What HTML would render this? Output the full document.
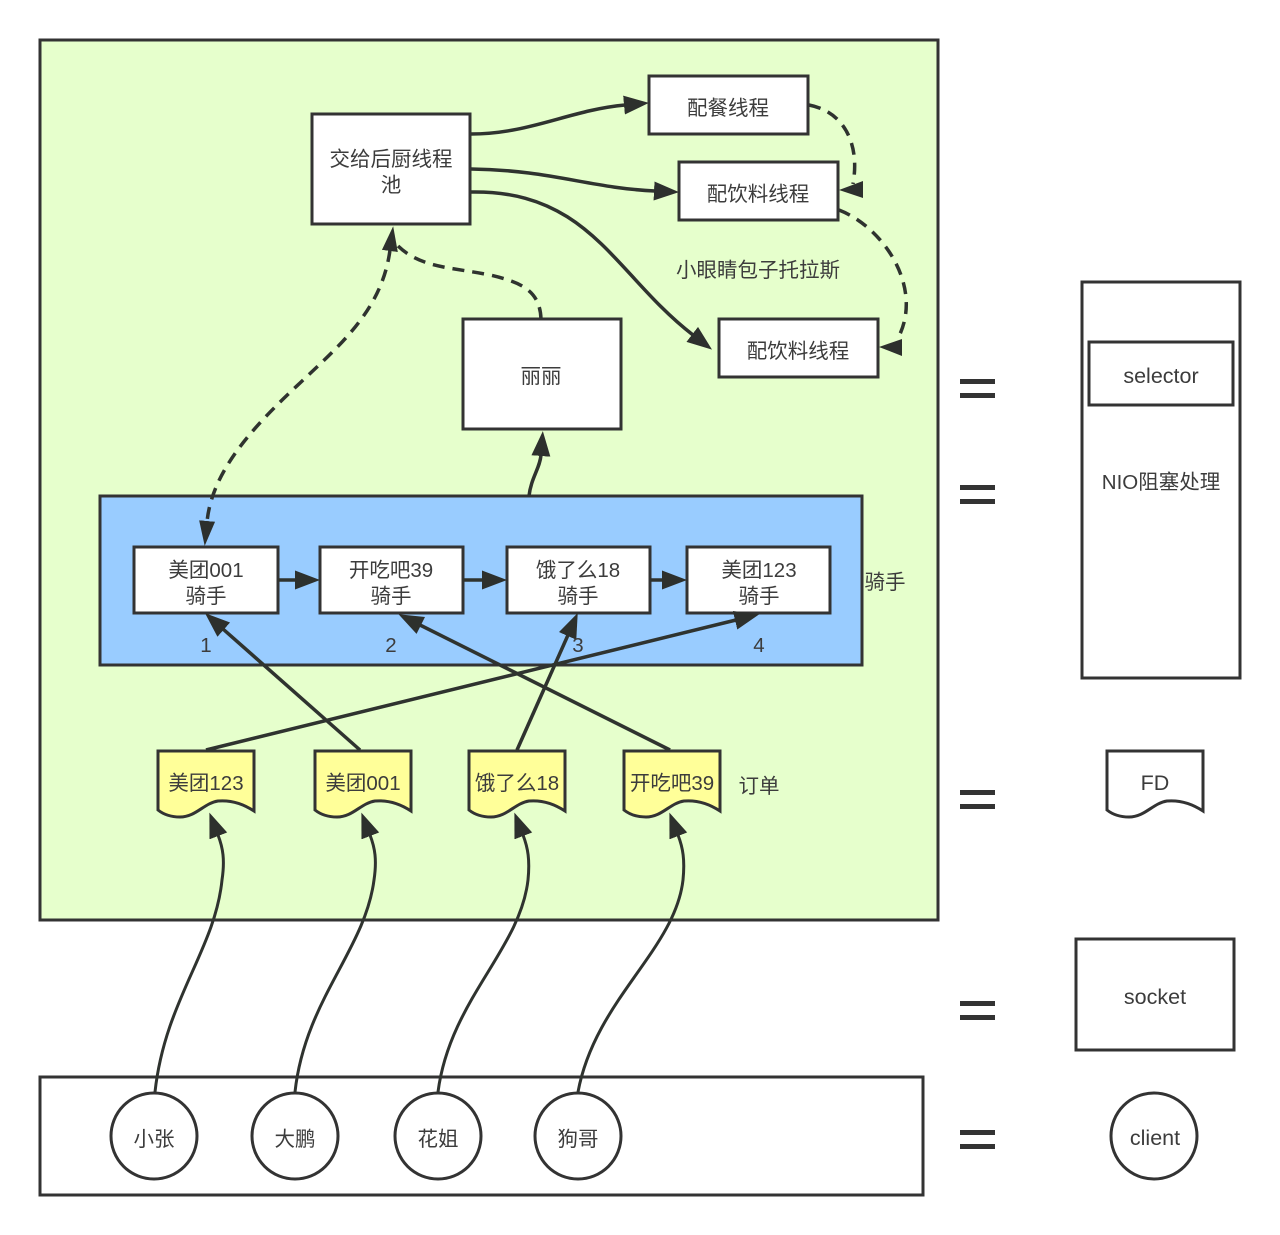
<!DOCTYPE html>
<html><head><meta charset="utf-8"><style>
html,body{margin:0;padding:0;background:#fff}
svg{display:block}
text{font-family:"Liberation Sans","Noto Sans CJK SC",sans-serif;font-size:20.5px;fill:#3c3c3c;text-anchor:middle}
text.w{font-size:21.5px}
.b{fill:#fff;stroke:#333;stroke-width:3}
.l{fill:none;stroke:#2f332f;stroke-width:3}
.d{stroke-dasharray:12 8}
.t{stroke-width:3.5}
.e{fill:#2d302d}
</style></head><body>
<svg width="1280" height="1235" viewBox="0 0 1280 1235" xmlns="http://www.w3.org/2000/svg">
<defs>
<marker id="a" markerUnits="userSpaceOnUse" markerWidth="26" markerHeight="22" viewBox="0 0 26 22" refX="1" refY="11" orient="auto"><path d="M0,1.5L25,11L0,20.5z" fill="#2d302d"/></marker>
<marker id="s" markerUnits="userSpaceOnUse" markerWidth="26" markerHeight="22" viewBox="0 0 26 22" refX="1" refY="11" orient="auto-start-reverse"><path d="M0,3L25,11L0,19z" fill="#2d302d"/></marker>
<path id="doc" d="M0,0H96V60C84,52 72,49 60,50C46,52 38,66 22,66C12,66 5,63 0,59Z"/>
</defs>
<rect x="40" y="40" width="898" height="880" fill="#e6ffcc" stroke="#333" stroke-width="3"/>
<rect x="100" y="496" width="762" height="169" fill="#99ccff" stroke="#333" stroke-width="3"/>
<rect x="40" y="1077" width="883" height="118" class="b"/>
<rect class="b" x="312" y="114" width="158" height="110"/>
<rect class="b" x="649" y="76" width="159" height="58"/>
<rect class="b" x="679" y="162" width="159" height="58"/>
<rect class="b" x="719" y="319" width="159" height="58"/>
<rect class="b" x="463" y="319" width="158" height="110"/>
<rect class="b" x="134" y="547" width="144" height="66"/>
<rect class="b" x="320" y="547" width="143" height="66"/>
<rect class="b" x="507" y="547" width="143" height="66"/>
<rect class="b" x="687" y="547" width="143" height="66"/>
<use href="#doc" x="158" y="751" fill="#ffff99" stroke="#333" stroke-width="3"/>
<use href="#doc" x="315" y="751" fill="#ffff99" stroke="#333" stroke-width="3"/>
<use href="#doc" x="469" y="751" fill="#ffff99" stroke="#333" stroke-width="3"/>
<use href="#doc" x="624" y="751" fill="#ffff99" stroke="#333" stroke-width="3"/>
<circle class="b" cx="154" cy="1136" r="43"/>
<circle class="b" cx="295" cy="1136" r="43"/>
<circle class="b" cx="438" cy="1136" r="43"/>
<circle class="b" cx="578" cy="1136" r="43"/>
<rect class="b" x="1082" y="282" width="158" height="396"/>
<rect class="b" x="1089" y="342" width="144" height="63"/>
<use href="#doc" x="1107" y="751" fill="#fff" stroke="#333" stroke-width="3"/>
<rect class="b" x="1076" y="939" width="158" height="111"/>
<circle class="b" cx="1154" cy="1136" r="43"/>

<path class="l t" marker-end="url(#a)" d="M471,134C530,134 570,110 625,105"/>
<path class="l t" marker-end="url(#a)" d="M471,169C550,170 590,188 655,191"/>
<path class="l t" marker-end="url(#a)" d="M471,192C590,190 615,275 693,335"/>
<path class="l t d" d="M809,105C845,112 860,145 853,184"/>
<path class="e" d="M863,181V198L839,190Z"/>
<path class="l t d" d="M839,210C885,228 925,290 897,340"/>
<path class="e" d="M902,339V356L879,347Z"/>
<path class="l t d" d="M541,319C540,290 520,282 490,275C450,267 420,268 397,245"/>
<path class="l t d" marker-start="url(#s)" marker-end="url(#s)" d="M390,250C382,310 340,345 300,383C255,425 212,470 207,522"/>
<path class="l t" marker-end="url(#a)" d="M529,496C531,478 540,468 541,455"/>
<path class="l t" marker-end="url(#a)" d="M278,580H296"/>
<path class="l t" marker-end="url(#a)" d="M463,580H483"/>
<path class="l t" marker-end="url(#a)" d="M650,580H663"/>
<path class="l t" marker-end="url(#a)" d="M360,750L223,629"/>
<path class="l t" marker-end="url(#a)" d="M670,750L420,625"/>
<path class="l t" marker-end="url(#a)" d="M517,750L568,635"/>
<path class="l t" marker-end="url(#a)" d="M206,750L736,620"/>
<path class="l" marker-end="url(#a)" d="M155,1092C165,1000 215,950 222,880C225,860 223,848 218,835"/>
<path class="l" marker-end="url(#a)" d="M295,1092C305,1000 365,950 374,880C377,860 375,848 370,835"/>
<path class="l" marker-end="url(#a)" d="M438,1092C450,1000 520,950 528,880C530,860 528,848 523,835"/>
<path class="l" marker-end="url(#a)" d="M578,1092C595,1000 675,950 683,880C685,860 683,848 678,835"/>

<g fill="#333">
<rect x="960" y="379" width="35" height="5"/><rect x="960" y="393" width="35" height="5"/>
<rect x="960" y="485" width="35" height="5"/><rect x="960" y="499" width="35" height="5"/>
<rect x="960" y="790" width="35" height="5"/><rect x="960" y="804" width="35" height="5"/>
<rect x="960" y="1001" width="35" height="5"/><rect x="960" y="1015" width="35" height="5"/>
<rect x="960" y="1130" width="35" height="5"/><rect x="960" y="1144" width="35" height="5"/>
</g>

<text x="391" y="166">交给后厨线程</text>
<text x="391" y="192">池</text>
<text x="728" y="115">配餐线程</text>
<text x="758" y="201">配饮料线程</text>
<text x="798" y="358">配饮料线程</text>
<text x="758" y="277">小眼睛包子托拉斯</text>
<text x="541" y="383">丽丽</text>
<text x="206" y="577">美团001</text><text x="206" y="603">骑手</text>
<text x="391" y="577">开吃吧39</text><text x="391" y="603">骑手</text>
<text x="578" y="577">饿了么18</text><text x="578" y="603">骑手</text>
<text x="759" y="577">美团123</text><text x="759" y="603">骑手</text>
<text x="206" y="652">1</text><text x="391" y="652">2</text><text x="578" y="652">3</text><text x="759" y="652">4</text>
<text x="885" y="589">骑手</text>
<text x="206" y="790">美团123</text>
<text x="363" y="790">美团001</text>
<text x="517" y="790">饿了么18</text>
<text x="672" y="790">开吃吧39</text>
<text x="759" y="793">订单</text>
<text x="154" y="1146">小张</text>
<text x="295" y="1146">大鹏</text>
<text x="438" y="1146">花姐</text>
<text x="578" y="1146">狗哥</text>
<text class="w" x="1161" y="383">selector</text>
<text x="1161" y="489">NIO阻塞处理</text>
<text class="w" x="1155" y="790">FD</text>
<text class="w" x="1155" y="1004">socket</text>
<text class="w" x="1155" y="1145">client</text>
</svg>
</body></html>
